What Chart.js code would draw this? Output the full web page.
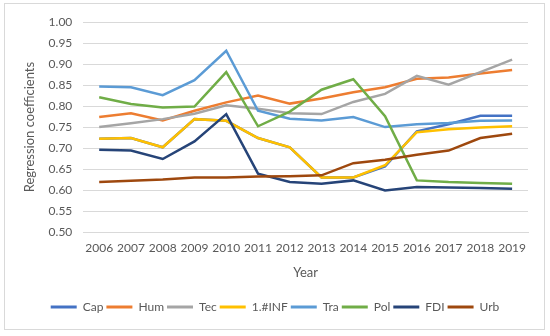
<!DOCTYPE html>
<html>
<head>
<meta charset="utf-8">
<script src="https://cdn.jsdelivr.net/npm/chart.js@4"></script>
<style>
  body { margin: 0; background: #fff; }
  #caixa { position: absolute; left: 4px; top: 3px; width: 541px; height: 327px; border: 1px solid #d9d9d9; box-sizing: border-box; }
</style>
</head>
<body>
<div id="caixa"><canvas id="grafico" width="539" height="325"></canvas></div>
<script>
// Anos no eixo x
const anos = ['2006','2007','2008','2009','2010','2011','2012','2013','2014','2015','2016','2017','2018','2019'];

// Coeficientes de regressão
const cap = [0.722, 0.724, 0.702, 0.769, 0.765, 0.724, 0.702, 0.630, 0.630, 0.656, 0.740, 0.757, 0.777, 0.777];
const hum = [0.774, 0.783, 0.766, 0.789, 0.809, 0.825, 0.806, 0.818, 0.833, 0.845, 0.865, 0.868, 0.878, 0.886];
const tec = [0.750, 0.759, 0.769, 0.782, 0.802, 0.794, 0.783, 0.781, 0.810, 0.829, 0.872, 0.851, 0.881, 0.911];
const inf = [0.722, 0.724, 0.702, 0.769, 0.765, 0.724, 0.702, 0.630, 0.630, 0.659, 0.738, 0.745, 0.749, 0.752];
const tra = [0.847, 0.845, 0.826, 0.862, 0.932, 0.789, 0.770, 0.766, 0.774, 0.750, 0.757, 0.760, 0.765, 0.766];
const pol = [0.821, 0.805, 0.797, 0.799, 0.881, 0.752, 0.787, 0.839, 0.864, 0.776, 0.623, 0.619, 0.617, 0.615];
const fdi = [0.696, 0.694, 0.674, 0.716, 0.781, 0.639, 0.619, 0.615, 0.623, 0.599, 0.607, 0.606, 0.605, 0.603];
const urb = [0.619, 0.622, 0.625, 0.630, 0.630, 0.632, 0.633, 0.635, 0.664, 0.672, 0.684, 0.694, 0.724, 0.734];

const nomes = ['Cap', 'Hum', 'Tec', '1.#INF', 'Tra', 'Pol', 'FDI', 'Urb'];
const series = [cap, hum, tec, inf, tra, pol, fdi, urb];
const cores = ['#4472C4', '#ED7D31', '#A5A5A5', '#FFC000', '#5B9BD5', '#70AD47', '#264478', '#9E480E'];

Chart.defaults.font.family = "Lato, 'Open Sans', sans-serif";
Chart.defaults.color = '#595959';

const ctx = document.getElementById('grafico').getContext('2d');

const grafico = new Chart(ctx, {
    type: 'line',
    data: {
        labels: anos,
        datasets: series.map((valores, i) => ({
            label: nomes[i],
            data: valores,
            borderColor: cores[i],
            backgroundColor: cores[i],
            borderWidth: 2.5,
            pointRadius: 0,
            tension: 0,
            order: series.length - i // Cap fica por baixo, como no Excel
        }))
    },
    options: {
        responsive: false,
        animation: false,
        layout: { padding: { left: 17, right: 16, top: 8, bottom: 6 } },
        scales: {
            x: {
                offset: true,
                grid: { display: false },
                border: { color: '#d9d9d9' },
                ticks: { font: { size: 12 }, padding: 1, maxRotation: 0, autoSkip: false },
                title: { display: true, text: 'Year', font: { size: 13 }, padding: { top: 9, bottom: 17 } }
            },
            y: {
                min: 0.5,
                max: 1.0,
                grid: { color: '#d9d9d9', drawTicks: false },
                border: { display: false },
                ticks: {
                    stepSize: 0.05,
                    padding: 11,
                    font: { size: 12 },
                    callback: v => v.toFixed(2)
                },
                title: { display: true, text: 'Regression coefficients', font: { size: 13 }, padding: { top: 0, bottom: 0 } }
            }
        },
        plugins: {
            legend: {
                position: 'bottom',
                labels: {
                    boxWidth: 26,
                    boxHeight: 3,
                    padding: 3,
                    font: { size: 12 },
                    generateLabels: chart => chart.data.datasets.map((d, i) => ({
                        text: d.label,
                        fillStyle: d.borderColor,
                        strokeStyle: d.borderColor,
                        lineWidth: 0,
                        datasetIndex: i,
                        fontColor: '#595959'
                    }))
                }
            },
            tooltip: { enabled: false }
        }
    }
});
</script>
</body>
</html>
